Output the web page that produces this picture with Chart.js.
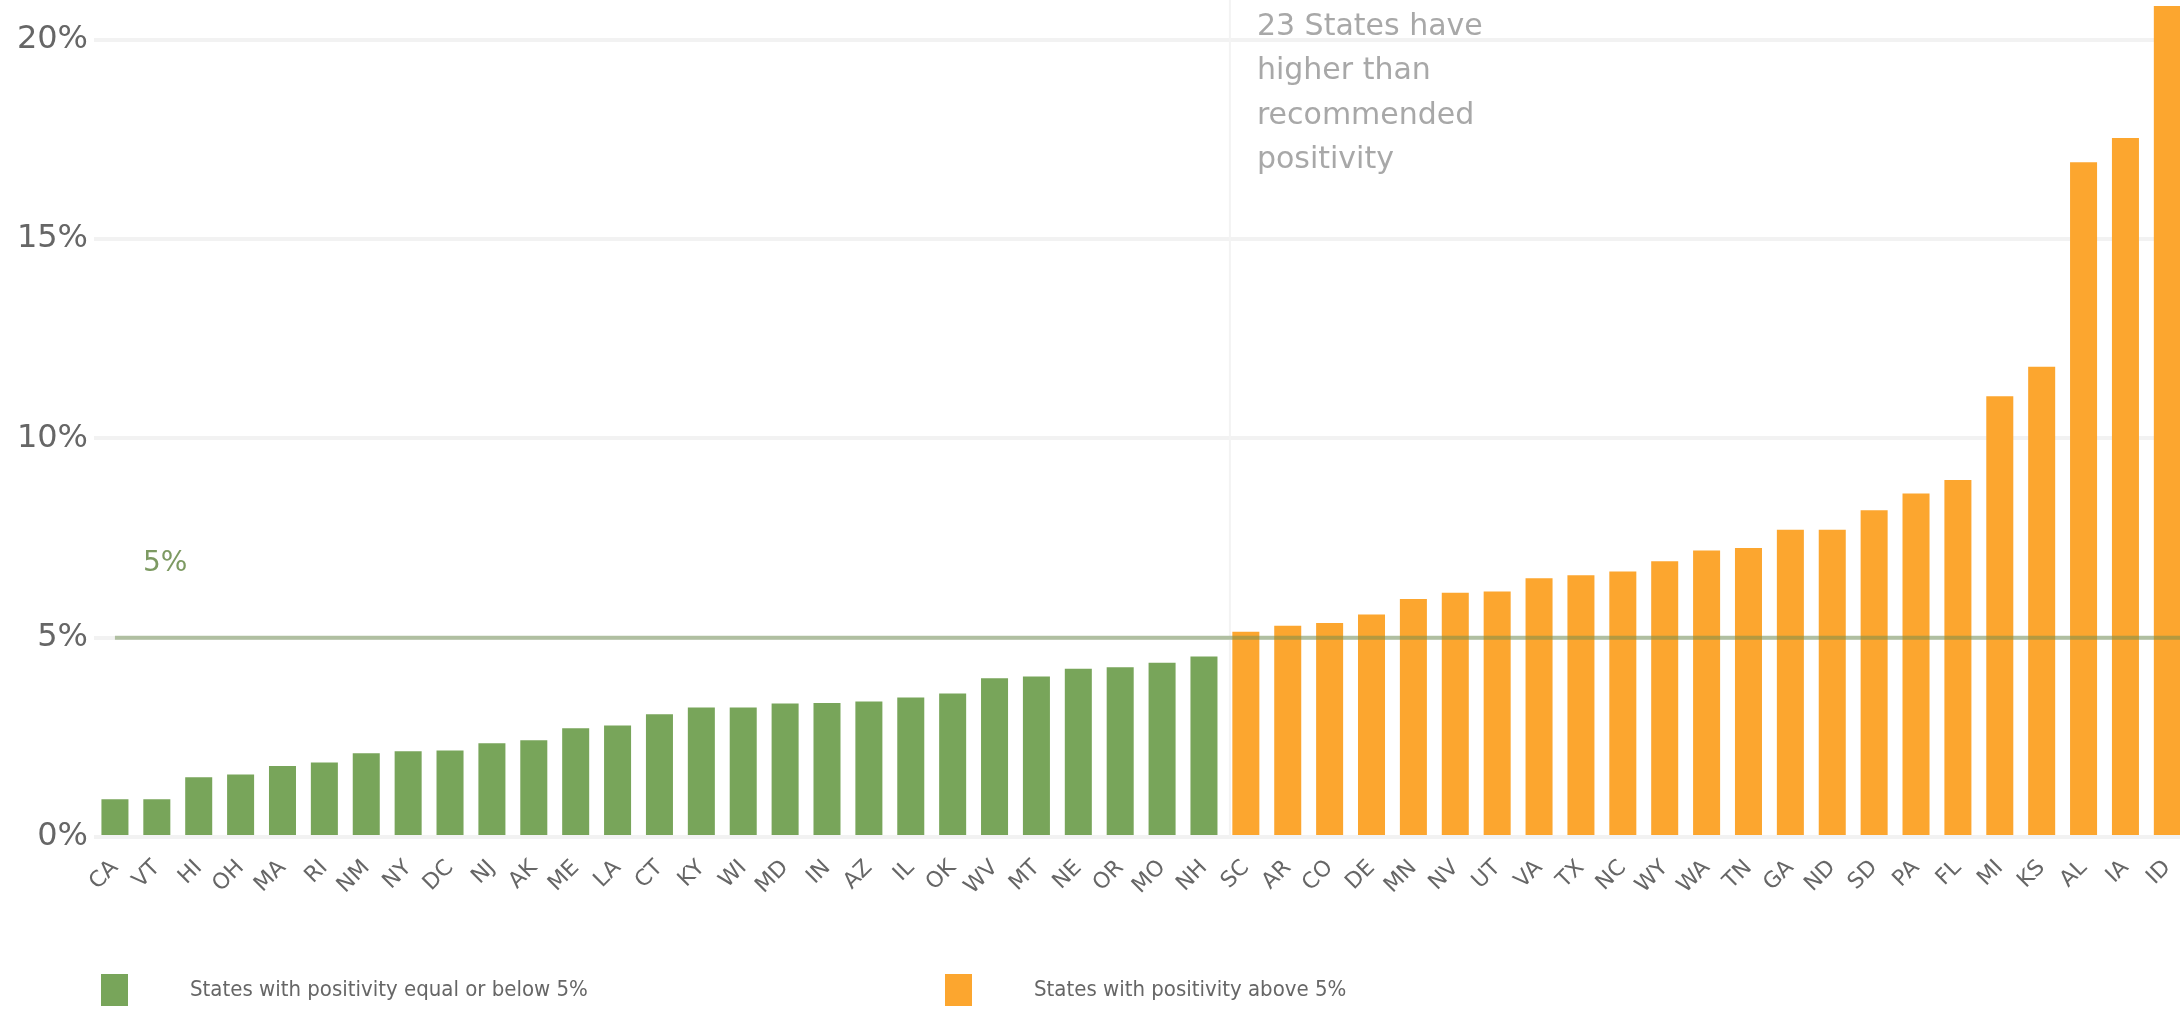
<!DOCTYPE html>
<html>
<head>
<meta charset="utf-8">
<script src="https://cdn.jsdelivr.net/npm/chart.js@4"></script>
<style>
  html, body { margin: 0; padding: 0; background: #fff; overflow: hidden; }
  #wrap { width: 2196px; height: 1012px; }
</style>
</head>
<body>
<div id="wrap"><canvas id="positivityChart"></canvas></div>
<script>
// states sorted by test positivity (%)
const states = ['CA', 'VT', 'HI', 'OH', 'MA', 'RI', 'NM', 'NY', 'DC', 'NJ', 'AK', 'ME', 'LA', 'CT', 'KY', 'WI', 'MD', 'IN', 'AZ', 'IL', 'OK', 'WV', 'MT', 'NE', 'OR', 'MO', 'NH',
                'SC', 'AR', 'CO', 'DE', 'MN', 'NV', 'UT', 'VA', 'TX', 'NC', 'WY', 'WA', 'TN', 'GA', 'ND', 'SD', 'PA', 'FL', 'MI', 'KS', 'AL', 'IA', 'ID'];
const positivity = [0.95, 0.95, 1.5, 1.57, 1.78, 1.87, 2.1, 2.15, 2.17, 2.35, 2.43, 2.73, 2.8, 3.08, 3.25, 3.25, 3.35, 3.36, 3.4, 3.5, 3.6, 3.98, 4.03, 4.22, 4.26, 4.37, 4.53,
                    5.15, 5.3, 5.37, 5.58, 5.97, 6.13, 6.16, 6.49, 6.57, 6.66, 6.92, 7.19, 7.25, 7.71, 7.71, 8.2, 8.62, 8.96, 11.06, 11.8, 16.93, 17.54, 20.85];
const yTicks = [0, 5, 10, 15, 20];
const threshold = 5;
const seriesNames = ['States with positivity equal or below 5%', 'States with positivity above 5%'];
const note = ['23 States have', 'higher than', 'recommended', 'positivity'];

const GREEN = '#78a55a';
const ORANGE = '#fca62f';
const FONT = '"DejaVu Sans", Verdana, sans-serif';

const below = positivity.map(v => v <= threshold ? v : null);
const above = positivity.map(v => v > threshold ? v : null);
const firstAbove = positivity.findIndex(v => v > threshold);

// threshold line, divider, note and legend
const extras = {
    id: 'extras',
    beforeDatasetsDraw(chart) {
        const {ctx, chartArea, scales: {x}} = chart;
        const split = (x.getPixelForValue(firstAbove - 1) + x.getPixelForValue(firstAbove)) / 2 + 5;
        ctx.save();
        ctx.strokeStyle = '#f3f3f3';
        ctx.lineWidth = 2;
        ctx.beginPath();
        ctx.moveTo(split, 0);
        ctx.lineTo(split, chartArea.bottom);
        ctx.stroke();

        ctx.fillStyle = '#a8a8a8';
        ctx.font = '30px ' + FONT;
        ctx.textBaseline = 'middle';
        note.forEach((line, i) => ctx.fillText(line, split + 27, 27 + i * 44.5));
        ctx.restore();
    },
    afterDatasetsDraw(chart) {
        const {ctx, chartArea, scales: {x, y}} = chart;
        const y5 = y.getPixelForValue(threshold);
        ctx.save();
        ctx.strokeStyle = 'rgba(110, 140, 80, 0.5)';
        ctx.lineWidth = 4;
        ctx.beginPath();
        ctx.moveTo(x.getPixelForValue(0), y5);
        ctx.lineTo(chartArea.right, y5);
        ctx.stroke();

        ctx.fillStyle = '#7d9a62';
        ctx.font = '28px ' + FONT;
        ctx.textBaseline = 'middle';
        ctx.fillText(threshold + '%', x.getPixelForValue(0) + 28, y.getPixelForValue(6.85));
        ctx.restore();
    },
    afterDraw(chart) {
        const {ctx} = chart;
        const items = [[101, GREEN, seriesNames[0]], [945, ORANGE, seriesNames[1]]];
        ctx.save();
        ctx.font = '22px "DejaVu Sans Condensed", ' + FONT;
        ctx.textBaseline = 'middle';
        items.forEach(([left, color, text]) => {
            ctx.fillStyle = color;
            ctx.fillRect(left, 974, 27, 32);
            ctx.fillStyle = '#666';
            ctx.fillText(text, left + 89, 990);
        });
        ctx.restore();
    }
};

new Chart(document.getElementById('positivityChart'), {
    type: 'bar',
    data: {
        labels: states,
        datasets: [{
            label: seriesNames[0],
            data: below,
            backgroundColor: GREEN
        }, {
            label: seriesNames[1],
            data: above,
            backgroundColor: ORANGE
        }]
    },
    options: {
        responsive: true,
        maintainAspectRatio: false,
        animation: false,
        layout: { padding: 0 },
        datasets: {
            bar: { grouped: false, categoryPercentage: 1, barPercentage: 0.645 }
        },
        plugins: {
            legend: { display: false },
            tooltip: { enabled: false }
        },
        scales: {
            x: {
                grid: { display: false },
                border: { display: false },
                ticks: {
                    color: '#666',
                    font: { family: FONT, size: 22 },
                    minRotation: 45,
                    maxRotation: 45,
                    autoSkip: false,
                    padding: 10
                },
                afterFit: scale => { scale.height = 175; }
            },
            y: {
                min: 0,
                max: 21,
                grid: { color: '#f2f2f2', lineWidth: 4, drawTicks: false },
                border: { display: false },
                ticks: {
                    color: '#666',
                    font: { family: FONT, size: 32 },
                    padding: 6,
                    callback: v => v + '%'
                },
                afterBuildTicks: scale => { scale.ticks = yTicks.map(v => ({ value: v })); },
                afterFit: scale => {
                    scale.width = 94;
                    // let the plot reach the top edge, as in the original
                    scale.paddingTop = 0;
                    scale.paddingBottom = 0;
                }
            }
        }
    },
    plugins: [extras]
});
</script>
</body>
</html>
